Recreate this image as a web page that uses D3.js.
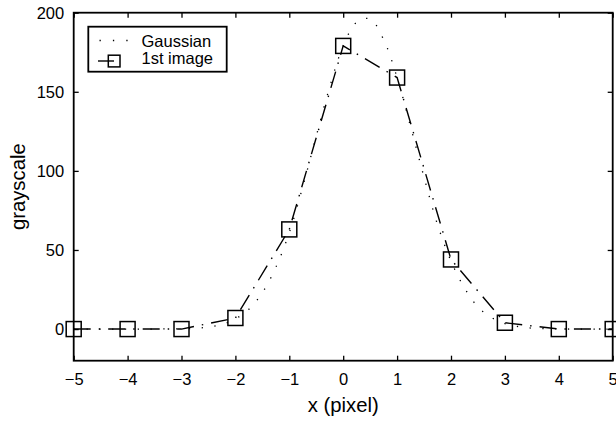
<!DOCTYPE html>
<html>
<head>
<meta charset="utf-8">
<script src="https://cdn.jsdelivr.net/npm/d3@7"></script>
<style>
  html, body { margin: 0; padding: 0; background: #fff; }
  text { font-family: "Liberation Sans", Arial, Helvetica, sans-serif; fill: #000; }
</style>
</head>
<body>
<script>
// Sampled pixel profile (integer pixel positions)
const pixelX = [-5, -4, -3, -2, -1, 0, 1, 2, 3, 4, 5];
const firstImage = [0, 0, 0, 7, 63, 179, 159, 44, 4, 0, 0];

// Fitted Gaussian profile, sampled every quarter pixel
const gaussX = [-5, -4.75, -4.5, -4.25, -4, -3.75, -3.5, -3.25, -3, -2.75, -2.5, -2.25,
  -2, -1.75, -1.5, -1.25, -1, -0.75, -0.5, -0.25, 0, 0.25, 0.5, 0.75, 1, 1.25, 1.5,
  1.75, 2, 2.25, 2.5, 2.75, 3, 3.25, 3.5, 3.75, 4, 4.25, 4.5, 4.75, 5];
const gaussY = [0, 0, 0, 0, 0, 0, 0, 0.1, 0.2, 0.5, 1.3, 3,
  6.4, 12.5, 23, 39, 61, 90, 122, 153, 179, 194, 196, 183, 159, 128, 96,
  66, 43, 26, 14, 7.3, 3.5, 1.6, 0.6, 0.2, 0.1, 0, 0, 0, 0];

const xTicks = [-5, -4, -3, -2, -1, 0, 1, 2, 3, 4, 5];
const yTicks = [0, 50, 100, 150, 200];
const seriesNames = ["Gaussian", "1st image"];

const W = 616, H = 421;
const plotL = 73.7, plotR = 612.7, plotT = 12.7, plotB = 360.7;

const x = d3.scaleLinear().domain([-5, 5]).range([plotL, plotR]);
const y = d3.scaleLinear().domain([-20, 200]).range([plotB, plotT]);

const svg = d3.select("body").append("svg")
  .attr("width", W).attr("height", H);

svg.append("rect").attr("width", W).attr("height", H).attr("fill", "#fff");

// Gaussian: dotted smooth curve
const gaussData = gaussX.map((v, i) => [v, gaussY[i]]);
svg.append("path")
  .datum(gaussData)
  .attr("fill", "none")
  .attr("stroke", "#000")
  .attr("stroke-width", 1.3)
  .attr("stroke-dasharray", "1.3,11.5")
  .attr("d", d3.line().x(d => x(d[0])).y(d => y(d[1])).curve(d3.curveCatmullRom));

// 1st image: dash-dot polyline with square markers
const imgData = pixelX.map((v, i) => [v, firstImage[i]]);
svg.append("path")
  .datum(imgData)
  .attr("fill", "none")
  .attr("stroke", "#000")
  .attr("stroke-width", 1.4)
  .attr("stroke-dasharray", "17,8,1.5,8")
  .attr("d", d3.line().x(d => x(d[0])).y(d => y(d[1])));

const ms = 15;
svg.append("g").selectAll("rect")
  .data(imgData)
  .join("rect")
  .attr("x", d => x(d[0]) - ms / 2)
  .attr("y", d => y(d[1]) - ms / 2)
  .attr("width", ms).attr("height", ms)
  .attr("fill", "none")
  .attr("stroke", "#000")
  .attr("stroke-width", 1.5);

// Axes: box with inward ticks on all four sides
const tickLen = 5;
const axisW = 1.8;
const axB = svg.append("g").attr("transform", `translate(0,${plotB})`)
  .call(d3.axisBottom(x).tickValues(xTicks).tickSizeInner(-tickLen).tickSizeOuter(0)
    .tickPadding(14).tickFormat(d => d < 0 ? "\u2212" + Math.abs(d) : String(d)));
const axT = svg.append("g").attr("transform", `translate(0,${plotT})`)
  .call(d3.axisTop(x).tickValues(xTicks).tickSizeInner(-tickLen).tickSizeOuter(0).tickFormat(""));
const axL = svg.append("g").attr("transform", `translate(${plotL},0)`)
  .call(d3.axisLeft(y).tickValues(yTicks).tickSizeInner(-tickLen).tickSizeOuter(0)
    .tickPadding(14).tickFormat(d3.format("d")));
const axR = svg.append("g").attr("transform", `translate(${plotR},0)`)
  .call(d3.axisRight(y).tickValues(yTicks).tickSizeInner(-tickLen).tickSizeOuter(0).tickFormat(""));

[axB, axT, axL, axR].forEach(g => {
  g.select(".domain").remove();
  g.selectAll(".tick line").attr("stroke", "#000").attr("stroke-width", 1.3);
  g.selectAll(".tick text").attr("font-size", 16.5).attr("fill", "#000")
    .attr("font-family", "'Liberation Sans', Arial, sans-serif");
});
axB.selectAll(".tick text").attr("dy", null).attr("y", 24.8);
axL.selectAll(".tick text").attr("x", -9.5).attr("dy", "0.35em");

svg.append("rect")
  .attr("x", plotL).attr("y", plotT)
  .attr("width", plotR - plotL).attr("height", plotB - plotT)
  .attr("fill", "none").attr("stroke", "#000").attr("stroke-width", axisW);

// Axis titles
svg.append("text")
  .attr("x", (plotL + plotR) / 2).attr("y", 412)
  .attr("text-anchor", "middle").attr("font-size", 20.3)
  .text("x (pixel)");
svg.append("text")
  .attr("transform", `translate(25,${(plotT + plotB) / 2}) rotate(-90)`)
  .attr("text-anchor", "middle").attr("font-size", 20.3)
  .text("grayscale");

// Legend
const lg = svg.append("g");
lg.append("rect")
  .attr("x", 88.3).attr("y", 26.7).attr("width", 138.4).attr("height", 45)
  .attr("fill", "#fff").attr("stroke", "#000").attr("stroke-width", 1.8);
lg.append("line")
  .attr("x1", 99.5).attr("x2", 128.5).attr("y1", 40.5).attr("y2", 40.5)
  .attr("stroke", "#000").attr("stroke-width", 1.3).attr("stroke-dasharray", "1.3,12.1");
lg.append("line")
  .attr("x1", 98).attr("x2", 114).attr("y1", 61).attr("y2", 61)
  .attr("stroke", "#000").attr("stroke-width", 1.4);
lg.append("rect")
  .attr("x", 108.3).attr("y", 55.2).attr("width", 11.7).attr("height", 11.7)
  .attr("fill", "none").attr("stroke", "#000").attr("stroke-width", 1.5);
lg.selectAll("text.lbl")
  .data(seriesNames)
  .join("text")
  .attr("class", "lbl")
  .attr("x", 141.5)
  .attr("y", (d, i) => i === 0 ? 46.8 : 64.2)
  .attr("font-size", 16.5)
  .text(d => d);
</script>
</body>
</html>
